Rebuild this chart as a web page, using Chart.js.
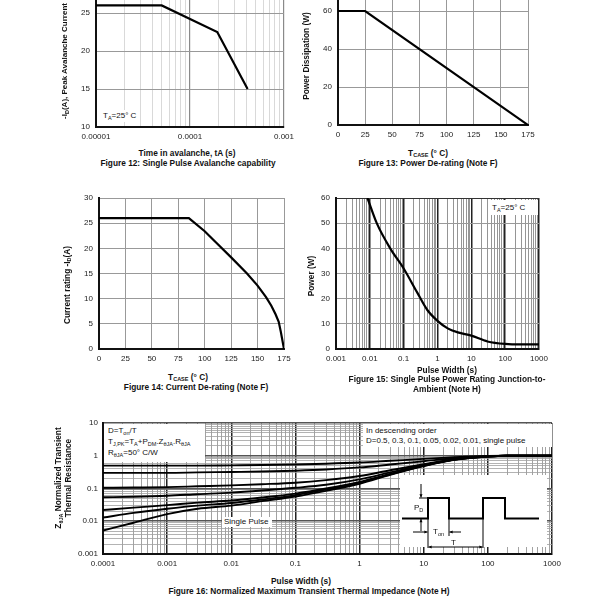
<!DOCTYPE html>
<html>
<head>
<meta charset="utf-8">
<script src="https://cdn.jsdelivr.net/npm/chart.js@4.4.1/dist/chart.umd.min.js"></script>
<style>
  html, body { margin: 0; padding: 0; background: #fff; }
  body { position: relative; width: 600px; height: 600px; overflow: hidden;
         font-family: "Liberation Sans", Arial, sans-serif; color: #111; }
  canvas { position: absolute; }
  .lbl { position: absolute; white-space: nowrap; font-size: 8px; line-height: 1; }
  .b { font-weight: bold; font-size: 8.3px; }
  .mid { transform: translate(-50%, -50%); }
  .rot { transform: translate(-50%, -50%) rotate(-90deg); text-align: center; }
  .lft { transform: translateY(-50%); }
  .wbg { background: #fff; }
  sub { font-size: 5.5px; vertical-align: -1.5px; line-height: 0; }
</style>
</head>
<body>
<canvas id="c12"></canvas>
<canvas id="c13"></canvas>
<canvas id="c14"></canvas>
<canvas id="c15"></canvas>
<canvas id="c16"></canvas>

<!-- Figure 12 -->
<div class="lbl b rot" style="left:65px;top:61px;font-size:8px">-I<sub>D</sub>(A), Peak Avalanche Current</div>
<div class="lbl lft wbg" style="left:100px;top:116px;padding:2px 3px">T<sub>A</sub>=25° C</div>
<div class="lbl b mid" style="left:187px;top:153px">Time in avalanche, tA (s)</div>
<div class="lbl b mid" style="left:188px;top:163px">Figure 12: Single Pulse Avalanche capability</div>

<!-- Figure 13 -->
<div class="lbl b rot" style="left:306px;top:56px">Power Dissipation (W)</div>
<div class="lbl b mid" style="left:428px;top:153px">T<sub>CASE</sub> (° C)</div>
<div class="lbl b mid" style="left:428px;top:163px">Figure 13: Power De-rating (Note F)</div>

<!-- Figure 14 -->
<div class="lbl b rot" style="left:67px;top:285px">Current rating -I<sub>D</sub>(A)</div>
<div class="lbl b mid" style="left:188px;top:377px">T<sub>CASE</sub> (° C)</div>
<div class="lbl b mid" style="left:196px;top:387px">Figure 14: Current De-rating (Note F)</div>

<!-- Figure 15 -->
<div class="lbl b rot" style="left:311px;top:276px">Power (W)</div>
<div class="lbl wbg" style="left:488px;top:200px;width:46px;height:11px;padding:2px 0 2px 4px;line-height:11px">T<sub>A</sub>=25° C</div>
<div class="lbl b mid" style="left:447px;top:370px">Pulse Width (s)</div>
<div class="lbl b mid" style="left:447px;top:379px">Figure 15: Single Pulse Power Rating Junction-to-</div>
<div class="lbl b mid" style="left:447px;top:389px">Ambient (Note H)</div>

<!-- Figure 16 -->
<div class="lbl b rot" style="left:63px;top:478px;line-height:10px">Z<sub>θJA</sub> Normalized Transient<br>Thermal Resistance</div>
<div class="lbl wbg" style="left:104px;top:424px;width:97px;height:37px;padding:1px 0 0 4px;line-height:11px">D=T<sub>on</sub>/T<br>T<sub>J,PK</sub>=T<sub>A</sub>+P<sub>DM</sub>.Z<sub>θJA</sub>.R<sub>θJA</sub><br>R<sub>θJA</sub>=50° C/W</div>
<div class="lbl wbg" style="left:363px;top:424px;width:186px;height:21px;padding:2px 0 0 3px;line-height:10px">In descending order<br>D=0.5, 0.3, 0.1, 0.05, 0.02, 0.01, single pulse</div>
<div class="lbl lft wbg" style="left:222px;top:522px;width:48px;padding:1px 0 1px 2px">Single Pulse</div>
<div class="lbl lft" style="left:414px;top:508px">P<sub>D</sub></div>
<div class="lbl lft" style="left:433px;top:532px">T<sub>on</sub></div>
<div class="lbl lft" style="left:451px;top:543px">T</div>
<div class="lbl b mid" style="left:301px;top:581px">Pulse Width (s)</div>
<div class="lbl b mid" style="left:309px;top:591px">Figure 16: Normalized Maximum Transient Thermal Impedance (Note H)</div>

<script>
// ---- data ----
// Figure 12: single pulse avalanche
const avalancheTime = [0.00001, 0.00005, 0.000195, 0.00041];
const avalancheCurrent = [26, 26, 22.5, 15];
const avalancheTicks = ['0.00001', '0.0001', '0.001'];

// Figure 13: power de-rating
const caseTemp13 = [0, 25, 175];
const powerDissipation = [60, 60, 0];

// Figure 14: current de-rating
const caseTemp14 = [0, 85, 100, 110, 125, 140, 150, 158, 163, 167, 170, 172, 175];
const currentRating = [26, 26, 23.4, 21.3, 18.2, 15, 12.6, 10.3, 8.6, 6.9, 5.4, 3.4, 0];

// Figure 15: single pulse power rating
const pulseWidth15 = [0.0085, 0.016, 0.04, 0.1, 0.25, 0.5, 1, 2, 4, 10, 30, 100, 300, 1000];
const pulsePower = [60, 50, 40, 32, 22.5, 15.5, 11.2, 8.2, 6.6, 5.3, 3.0, 2.0, 1.8, 1.8];
const pulseTicks15 = ['0.001', '0.01', '0.1', '1', '10', '100', '1000'];

// Figure 16: normalized transient thermal impedance
const pulseWidth16 = [1e-4, 3e-4, 1e-3, 3e-3, 1e-2, 3e-2, 0.1, 0.3, 1, 3, 10, 30, 100, 200, 1000];
const zD050 = [0.5, 0.5, 0.5, 0.5, 0.51, 0.52, 0.54, 0.57, 0.62, 0.70, 0.80, 0.90, 0.98, 1.0, 1.0];
const zD030 = [0.3, 0.3, 0.3, 0.31, 0.32, 0.33, 0.35, 0.38, 0.44, 0.54, 0.68, 0.84, 0.97, 1.0, 1.0];
const zD010 = [0.105, 0.107, 0.11, 0.117, 0.125, 0.135, 0.15, 0.18, 0.24, 0.36, 0.55, 0.78, 0.96, 1.0, 1.0];
const zD005 = [0.054, 0.056, 0.06, 0.067, 0.075, 0.087, 0.105, 0.13, 0.19, 0.31, 0.52, 0.77, 0.96, 1.0, 1.0];
const zD002 = [0.022, 0.026, 0.031, 0.037, 0.043, 0.053, 0.07, 0.1, 0.16, 0.28, 0.5, 0.76, 0.95, 1.0, 1.0];
const zD001 = [0.013, 0.018, 0.024, 0.03, 0.036, 0.046, 0.063, 0.092, 0.15, 0.27, 0.49, 0.76, 0.95, 1.0, 1.0];
const zSingle = [0.0052, 0.009, 0.0165, 0.024, 0.03, 0.041, 0.057, 0.085, 0.14, 0.26, 0.48, 0.75, 0.95, 1.0, 1.0];
const pulseTicks16 = ['0.0001', '0.001', '0.01', '0.1', '1', '10', '100', '1000'];
const zTicks16 = ['0.001', '0.01', '0.1', '1', '10'];

// ---- layout ----
const YW = 30, XH = 16, PAD_TOP = 5, PAD_RIGHT = 13;
const FRAME = '#111';

Chart.defaults.font.family = '"Liberation Sans", Arial, sans-serif';
Chart.defaults.font.size = 8;
Chart.defaults.color = '#222';
Chart.defaults.animation = false;

function placeCanvas(id, l, t, r, b, yw) {
    var c = document.getElementById(id);
    c.width = r - l + yw + PAD_RIGHT;
    c.height = b - t + XH + PAD_TOP;
    c.style.left = (l - yw) + 'px';
    c.style.top = (t - PAD_TOP) + 'px';
    return c;
}

function fixSize(size) {
    return function(scale) {
        if (scale.isHorizontal()) scale.height = size; else scale.width = size;
        scale.paddingLeft = scale.paddingRight = scale.paddingTop = scale.paddingBottom = 0;
    };
}

function points(xs, ys) {
    return xs.map(function(x, i) { return {x: x, y: ys[i]}; });
}

function decadeTicks(minExp, maxExp) {
    var t = [];
    for (var e = minExp; e < maxExp; e++) {
        for (var k = 1; k < 10; k++) t.push({value: Number(k + 'e' + e), major: k === 1});
    }
    t.push({value: Number('1e' + maxExp), major: true});
    return t;
}

function logAxis(minExp, maxExp, labels, size, st) {
    return {
        type: 'logarithmic',
        min: Number('1e' + minExp),
        max: Number('1e' + maxExp),
        afterBuildTicks: function(s) { s.ticks = decadeTicks(minExp, maxExp); },
        afterFit: fixSize(size),
        ticks: {
            autoSkip: false, maxRotation: 0, padding: 5,
            callback: function(v, i, t) {
                return t[i].major ? labels[Math.round(Math.log10(v)) - minExp] : '';
            }
        },
        grid: {
            drawTicks: false,
            color: function(c) { return c.tick && c.tick.major ? st.major : st.minor; },
            lineWidth: function(c) { return c.tick && c.tick.major ? st.majorW : st.minorW; }
        },
        border: {color: FRAME, width: 2}
    };
}

function linAxis(min, max, step, size, color, edge) {
    return {
        type: 'linear', min: min, max: max,
        afterFit: fixSize(size),
        ticks: {stepSize: step, maxRotation: 0, autoSkip: false, padding: size === XH ? 5 : 6},
        grid: {
            drawTicks: false,
            color: function(c) { return edge && c.tick && c.tick.value === max ? edge : color; },
            lineWidth: 1
        },
        border: {color: FRAME, width: 2}
    };
}

function lineSet(data, width, smooth) {
    return {
        data: data, borderColor: '#000', borderWidth: width, pointRadius: 0,
        fill: false, tension: 0, cubicInterpolationMode: smooth ? 'monotone' : 'default'
    };
}

function baseOptions(scales) {
    return {
        responsive: false,
        layout: {padding: {top: PAD_TOP, right: PAD_RIGHT, left: 0, bottom: 0}},
        plugins: {legend: {display: false}, tooltip: {enabled: false}},
        scales: scales
    };
}

// Figure 12
new Chart(placeCanvas('c12', 96, -25, 284, 127, YW), {
    type: 'line',
    data: {datasets: [lineSet(points(avalancheTime, avalancheCurrent), 2.2, false)]},
    options: baseOptions({
        x: logAxis(-5, -3, avalancheTicks, XH, {major: '#8a8a8a', minor: '#cfcfcf', majorW: 1.2, minorW: 0.8}),
        y: linAxis(10, 30, 5, YW, '#999')
    })
});

// Figure 13
new Chart(placeCanvas('c13', 338, -27, 528, 125, YW), {
    type: 'line',
    data: {datasets: [lineSet(points(caseTemp13, powerDissipation), 2.2, false)]},
    options: baseOptions({
        x: linAxis(0, 175, 25, XH, '#999'),
        y: linAxis(0, 80, 20, YW, '#999')
    })
});

// Figure 14
new Chart(placeCanvas('c14', 99, 198, 284, 349, YW), {
    type: 'line',
    data: {datasets: [lineSet(points(caseTemp14, currentRating), 2.2, false)]},
    options: baseOptions({
        x: linAxis(0, 175, 25, XH, '#999'),
        y: linAxis(0, 30, 5, YW, '#999')
    })
});

// Figure 15
new Chart(placeCanvas('c15', 336, 198, 539, 349, YW), {
    type: 'line',
    data: {datasets: [lineSet(points(pulseWidth15, pulsePower), 2.2, true)]},
    options: baseOptions({
        x: logAxis(-3, 3, pulseTicks15, XH, {major: '#222', minor: '#7a7a7a', majorW: 1.5, minorW: 0.8}),
        y: linAxis(0, 60, 10, YW, '#999', '#333')
    })
});

// Figure 16 inset: duty cycle waveform sketch (page coordinates)
const insetPlugin = {
    id: 'inset',
    afterDatasetsDraw: function(chart) {
        var ctx = chart.ctx;
        var ox = chart.canvas.offsetLeft, oy = chart.canvas.offsetTop;
        ctx.save();
        ctx.translate(-ox, -oy);
        ctx.fillStyle = '#fff';
        ctx.fillRect(400, 475, 147, 72);

        ctx.strokeStyle = '#000';
        ctx.lineWidth = 2;
        ctx.beginPath();
        ctx.moveTo(402, 518.5);
        [[428, 518.5], [428, 498], [449, 498], [449, 518.5], [483, 518.5],
         [483, 498], [505, 498], [505, 518.5], [539, 518.5]].forEach(function(p) { ctx.lineTo(p[0], p[1]); });
        ctx.stroke();

        ctx.lineWidth = 1;
        ctx.beginPath();
        ctx.moveTo(428, 518.5); ctx.lineTo(428, 548);
        ctx.moveTo(449, 518.5); ctx.lineTo(449, 536);
        ctx.moveTo(483, 518.5); ctx.lineTo(483, 548);
        ctx.moveTo(419, 498); ctx.lineTo(428, 498);
        ctx.stroke();

        function arrow(x1, y1, x2, y2) {
            var a = Math.atan2(y2 - y1, x2 - x1), h = 3.5;
            ctx.beginPath();
            ctx.moveTo(x1, y1); ctx.lineTo(x2, y2); ctx.stroke();
            ctx.beginPath();
            ctx.moveTo(x2, y2);
            ctx.lineTo(x2 - h * Math.cos(a - 0.45), y2 - h * Math.sin(a - 0.45));
            ctx.lineTo(x2 - h * Math.cos(a + 0.45), y2 - h * Math.sin(a + 0.45));
            ctx.closePath();
            ctx.fillStyle = '#000';
            ctx.fill();
        }
        arrow(421, 484, 421, 497.5);
        arrow(421, 531, 421, 519);
        arrow(413, 532, 427.5, 532);
        arrow(461, 532, 449.5, 532);
        arrow(455, 547, 428.5, 547);
        arrow(455, 547, 482.5, 547);
        ctx.restore();
    }
};

// Figure 16
var zSets = [zD050, zD030, zD010, zD005, zD002, zD001, zSingle].map(function(z) {
    return lineSet(points(pulseWidth16, z), 1.9, true);
});
new Chart(placeCanvas('c16', 103, 423, 552, 554, 36), {
    type: 'line',
    data: {datasets: zSets},
    options: baseOptions({
        x: logAxis(-4, 3, pulseTicks16, XH, {major: '#222', minor: '#8a8a8a', majorW: 1.5, minorW: 0.8}),
        y: logAxis(-3, 1, zTicks16, 36, {major: '#555', minor: '#a0a0a0', majorW: 1.6, minorW: 0.8})
    }),
    plugins: [insetPlugin]
});
</script>
</body>
</html>
